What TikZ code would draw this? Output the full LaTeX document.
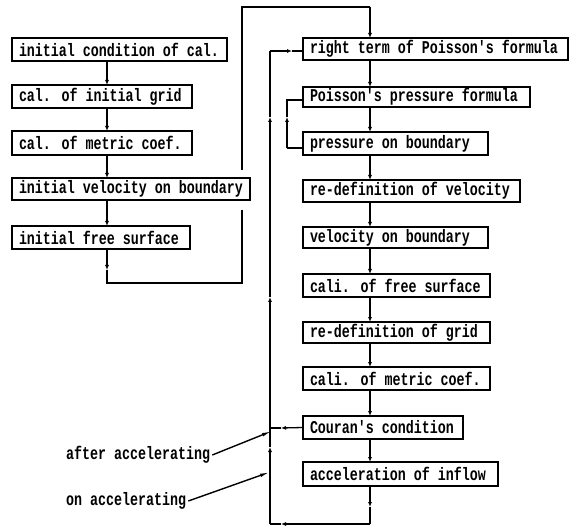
\documentclass[tikz,border=0pt]{standalone}
\usepackage{fontspec}
\usepackage{graphicx}
\newfontfamily\flowfont{Liberation Mono}[WordSpace={1,0,0}]
\usetikzlibrary{arrows.meta,calc}
\newcommand{\lbltxt}[1]{\scalebox{0.74}[1]{\fontsize{18}{20}\flowfont\bfseries\spaceskip=0pt\xspaceskip=0pt #1}}
\newcommand{\flowbox}[6]{\node[box, text width=#4pt, minimum height=#5pt] (#1) at (#2,#3) {\lbltxt{#6}};}
\tikzset{
  box/.style={draw, line width=1.6pt, anchor=north west, inner xsep=7pt, inner ysep=0pt, align=left, outer sep=0pt},
  line/.style={line width=1.3pt},
  arr/.style={line width=1.3pt, -{Latex[length=5pt,width=4pt]}},
  ptr/.style={line width=1.4pt, -{Latex[length=10pt,width=3.5pt]}},
  lab/.style={inner sep=2pt}
}
\begin{document}
\begin{tikzpicture}[x=1pt,y=-1pt]
\useasboundingbox (0,0) rectangle (575,526);
% left column
\flowbox{L1}{12}{38}{201}{23}{initial condition of cal.}
\flowbox{L2}{12}{85}{166}{23}{cal. of initial grid}
\flowbox{L3}{12}{131}{166}{24}{cal. of metric coef.}
\flowbox{L4}{12}{178}{224}{22}{initial velocity on boundary}
\flowbox{L5}{12}{226}{164}{23}{initial free surface}
% right column
\flowbox{R1}{303}{38}{251}{22}{right term of Poisson's formula}
\flowbox{R2}{303}{87}{213}{20}{Poisson's pressure formula}
\flowbox{R3}{303}{132}{171}{23}{pressure on boundary}
\flowbox{R4}{303}{180}{203}{22}{re-definition of velocity}
\flowbox{R5}{303}{227}{171}{21}{velocity on boundary}
\flowbox{R6}{303}{274}{173}{23}{cali. of free surface}
\flowbox{R7}{303}{322}{173}{21}{re-definition of grid}
\flowbox{R8}{303}{367}{173}{23}{cali. of metric coef.}
\flowbox{R9}{303}{416}{146}{23}{Couran's condition}
\flowbox{R10}{303}{462}{181}{24}{acceleration of inflow}
% labels
\node[lab, anchor=west] (la) at (64,455) {\lbltxt{after accelerating}};
\node[lab, anchor=west] (lo) at (64,501) {\lbltxt{on accelerating}};
% column coordinates
\coordinate (cl) at (107,0);
\coordinate (cr) at (370,0);
% left column arrows
\foreach \a/\b in {L1/L2,L2/L3,L3/L4,L4/L5}
  \draw[arr] (\a.south -| cl) -- (\b.north -| cl);
% right column arrows
\foreach \a/\b in {R1/R2,R2/R3,R3/R4,R4/R5,R5/R6,R6/R7,R7/R8,R8/R9,R9/R10}
  \draw[arr] (\a.south -| cr) -- (\b.north -| cr);
% connection from left column to right column
\coordinate (a1) at (107,270);
\coordinate (a2) at (107,283);
\coordinate (a3) at (242,283);
\coordinate (a4) at (242,210);
\coordinate (a5) at (242,170);
\coordinate (a6) at (242,7);
\coordinate (a7) at (370,7);
\draw[arr] (L5.south -| cl) -- (a1);
\draw[line] (a1) -- (a2) -- (a3) -- (a4);
\draw[line] (a5) -- (a6) -- (a7);
\draw[arr] (a7) -- (R1.north -| cr);
% loop from acceleration of inflow
\coordinate (b1) at (370,507);
\coordinate (b2) at (370,524);
\coordinate (b3) at (281,524);
\coordinate (b4) at (270,524);
\coordinate (b5) at (270,447);
\coordinate (j) at (270,428);
\draw[arr] (R10.south -| cr) -- (b1);
\draw[line] (b1) -- (b2);
\draw[arr] (b2) -- (b3);
\draw[line] (b3) -- (b4);
\draw[arr] (b4) -- (b5);
\draw[line] (b5) -- (j);
% loop from Couran's condition
\coordinate (c1) at (281,428);
\draw[arr] (R9.west) -- (c1);
\draw[line] (c1) -- (j);
\coordinate (d1) at (270,297);
\coordinate (d2) at (270,117);
\coordinate (d3) at (270,51);
\coordinate (d4) at (292,51);
\draw[arr] (j) -- (d1);
\draw[arr] (d1) -- (d2);
\draw[line] (d2) -- (d3);
\draw[arr] (d3) -- (d4);
\draw[line] (d4) -- (R1.west |- d4);
% inner loop
\coordinate (e1) at (287,148);
\coordinate (e2) at (287,117);
\coordinate (e3) at (287,100);
\draw[line] (R3.west |- e1) -- (e1);
\draw[arr] (e1) -- (e2);
\draw[line] (e2) -- (e3) -- (R2.west |- e3);
% label pointers
\coordinate (p1) at (272,431);
\coordinate (p2) at (270,472);
\draw[ptr] (la.east) -- (p1);
\draw[ptr] (lo.east) -- (p2);
\end{tikzpicture}
\end{document}
